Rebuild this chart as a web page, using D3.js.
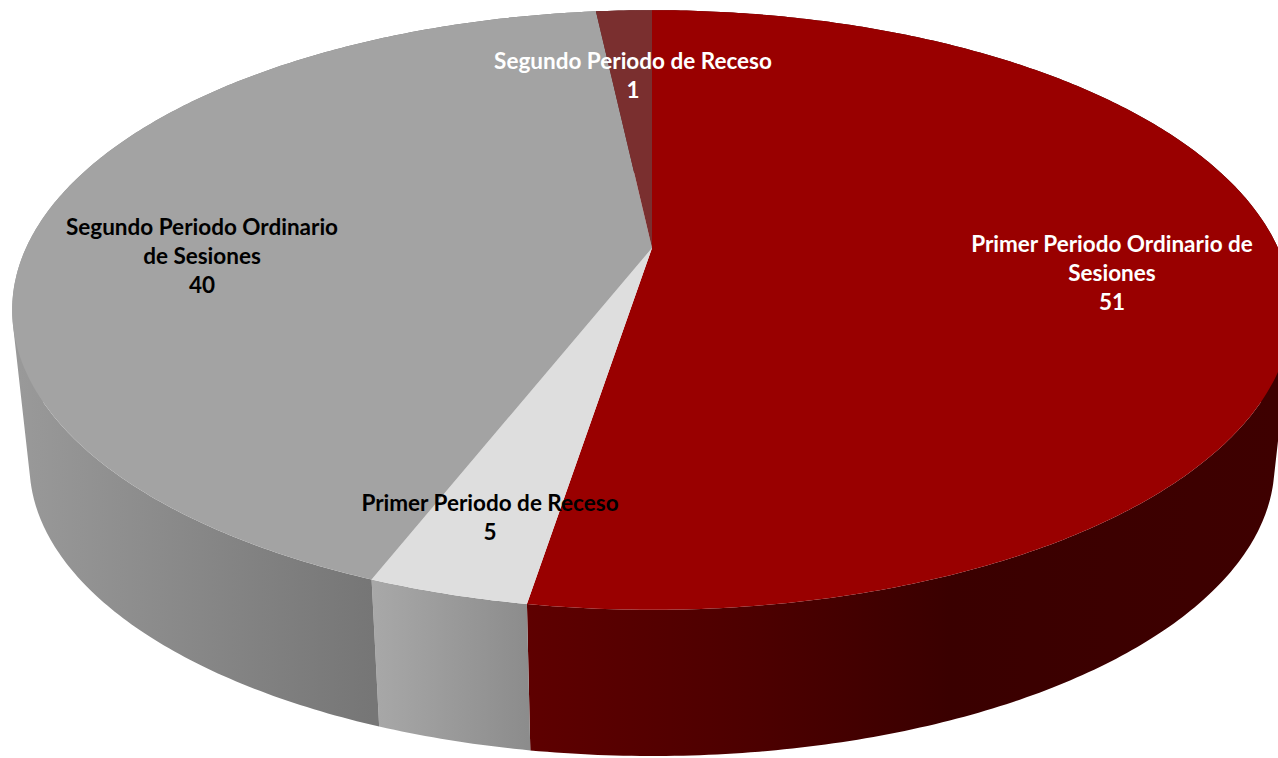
<!DOCTYPE html>
<html>
<head>
<meta charset="utf-8">
<script src="https://cdnjs.cloudflare.com/ajax/libs/d3/7.8.5/d3.min.js"></script>
<style>
    html, body { margin: 0; padding: 0; background: #fff; overflow: hidden; }
    text { font-family: Lato, "Open Sans", sans-serif; font-weight: 700; font-size: 22.5px; }
</style>
</head>
<body>
<div id="chart"></div>
<script>
var categories = ["Primer Periodo Ordinario de Sesiones", "Primer Periodo de Receso", "Segundo Periodo Ordinario de Sesiones", "Segundo Periodo de Receso"];
var labelValues = [51, 5, 40, 1];
// the slices in the picture are not exactly proportional to their labels,
// so these are the shares (out of 360)
var drawnShares = [189.15, 12.05, 152.6, 6.2];
var labelLines = [
    ["Primer Periodo Ordinario de", "Sesiones"],
    ["Primer Periodo de Receso"],
    ["Segundo Periodo Ordinario", "de Sesiones"],
    ["Segundo Periodo de Receso"]
];
var topColors = ["#990000", "#dedede", "#a3a3a3", "#7a2f2f"];
var labelColors = ["#fff", "#000", "#000", "#fff"];

var width = 1278;
var height = 758;
var cx = 652;
var tilt = 0.2067;      // perspective strength
var radiusX = 626;
var radiusY = 287;
var topY = 248;
var baseY = 404;
var baseScale = 0.973;
var labelX = [1112, 490, 202, 633];
var labelY = [252, 511, 235, 69];
var lineHeight = 29;

// side wall colours, by screen x
var sideX = [
    [528, 760, 950, 1278],
    [372, 385, 528],
    [20, 120, 372],
    [596, 652]
];
var sideStops = [
    ["#5e0000", "#4c0000", "#3a0000", "#3e0000"],
    ["#a8a8a8", "#a6a6a6", "#8c8c8c"],
    ["#999999", "#8f8f8f", "#767676"],
    ["#5a2020", "#5a2020"]
];

function project(angle, level) {
    var u = Math.sin(angle);
    var v = -Math.cos(angle);
    var w = 1 - tilt * v;
    var s = level === 0 ? 1 : baseScale;
    var y0 = level === 0 ? topY : baseY;
    return [cx + s * radiusX * u / w, y0 + s * radiusY * v / w];
}

var pie = d3.pie().sort(null).value(function(d) { return d; });
var arcs = pie(drawnShares);

var svg = d3.select("#chart").append("svg")
    .attr("width", width)
    .attr("height", height);

var defs = svg.append("defs");
sideX.forEach(function(xs, i) {
    var x0 = xs[0];
    var x1 = xs[xs.length - 1];
    var grad = defs.append("linearGradient")
        .attr("id", "side" + i)
        .attr("gradientUnits", "userSpaceOnUse")
        .attr("x1", x0).attr("x2", x1)
        .attr("y1", 0).attr("y2", 0);
    grad.selectAll("stop")
        .data(xs)
        .enter().append("stop")
        .attr("offset", function(x) { return (x - x0) / (x1 - x0); })
        .attr("stop-color", function(x, k) { return sideStops[i][k]; });
});

var line = d3.line().curve(d3.curveLinearClosed);

// one wall path per slice, made of small quads all wound the same way
// so the fold at the far left/right fills and no seams show
function wallPath(a) {
    var steps = Math.max(2, Math.round((a.endAngle - a.startAngle) * 90));
    var da = (a.endAngle - a.startAngle) / steps;
    return d3.range(steps).map(function(k) {
        var t = a.startAngle + da * k;
        var quad = [project(t, 0), project(t + da, 0), project(t + da, 1), project(t, 1)];
        if (d3.polygonArea(quad) < 0) quad.reverse();
        return line(quad);
    }).join("");
}

svg.append("g").selectAll("path")
    .data(arcs)
    .enter().append("path")
    .attr("d", wallPath)
    .attr("fill", function(a, i) { return "url(#side" + i + ")"; });

// top face
svg.append("g").selectAll("path")
    .data(arcs)
    .enter().append("path")
    .attr("d", function(a) {
        var pts = [[cx, topY]];
        var steps = Math.max(8, Math.round((a.endAngle - a.startAngle) * 90));
        d3.range(steps + 1).forEach(function(k) {
            pts.push(project(a.startAngle + (a.endAngle - a.startAngle) * k / steps, 0));
        });
        return line(pts);
    })
    .attr("fill", function(a, i) { return topColors[i]; });

// labels
var labels = svg.append("g").selectAll("text")
    .data(categories)
    .enter().append("text")
    .attr("text-anchor", "middle")
    .attr("fill", function(d, i) { return labelColors[i]; });

labels.each(function(d, i) {
    var el = d3.select(this);
    labelLines[i].concat([String(labelValues[i])]).forEach(function(t, k) {
        el.append("tspan")
            .attr("x", labelX[i])
            .attr("y", labelY[i] + k * lineHeight)
            .text(t);
    });
});
</script>
</body>
</html>
